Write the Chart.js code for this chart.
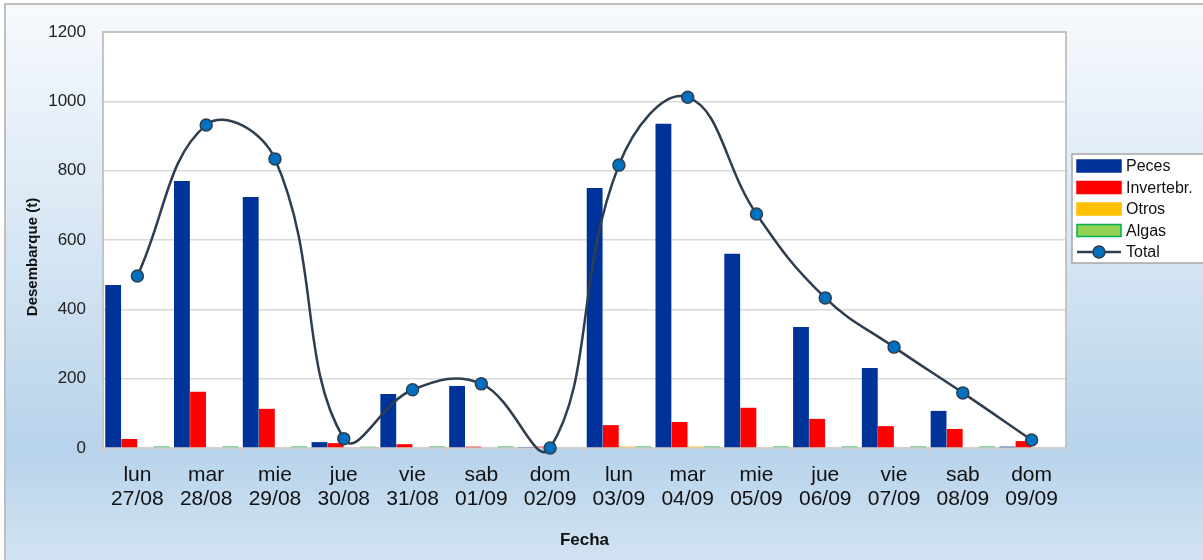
<!DOCTYPE html>
<html><head><meta charset="utf-8">
<script src="https://cdn.jsdelivr.net/npm/chart.js@4.4.1/dist/chart.umd.min.js"></script>
<style>html,body{margin:0;padding:0;background:#fff;overflow:hidden}</style>
</head><body>
<canvas id="c" width="1203" height="560"></canvas>
<script>
const dias = ['lun','mar','mie','jue','vie','sab','dom','lun','mar','mie','jue','vie','sab','dom'];
const fechas = ['27/08','28/08','29/08','30/08','31/08','01/09','02/09','03/09','04/09','05/09','06/09','07/09','08/09','09/09'];
const peces = [470, 770, 724, 17, 156, 179, 3, 750, 935, 560, 349, 231, 107, 4];
const invertebr = [26, 162, 113, 14, 11, 4, 4, 66, 75, 116, 84, 63, 55, 20];
const otros = [0, 0, 0, 0, 0, 0, 0, 4, 4, 0, 0, 0, 0, 0];
const algas = [5, 5, 5, 4, 5, 5, 0, 5, 5, 5, 5, 5, 5, 0];
const total = [496, 932, 834, 27, 168, 185, 0, 816, 1012, 675, 433, 291, 159, 23];
const yTicks = [0, 200, 400, 600, 800, 1000, 1200];
const yTitle = 'Desembarque (t)';
const xTitle = 'Fecha';

const FONT = "'Liberation Sans', Arial, sans-serif";
const labels = dias.map((d, i) => [d, fechas[i]]);

const legendItems = [
  {text: 'Peces', type: 'box', fill: '#003399', stroke: '#003399'},
  {text: 'Invertebr.', type: 'box', fill: '#ff0000', stroke: '#ff0000'},
  {text: 'Otros', type: 'box', fill: '#ffc000', stroke: '#ffc000'},
  {text: 'Algas', type: 'box', fill: '#92d050', stroke: '#00b050'},
  {text: 'Total', type: 'line', fill: '#0070c0', stroke: '#2f3e4f'}
];

const bgPlugin = {
  id: 'bg',
  beforeDraw(chart) {
    const ctx = chart.ctx, W = chart.width, H = chart.height, a = chart.chartArea;
    ctx.save();
    ctx.fillStyle = '#ffffff';
    ctx.fillRect(0, 0, W, H);
    const g = ctx.createLinearGradient(0, 4, 0, H);
    g.addColorStop(0, '#f7fafd');
    g.addColorStop(0.25, '#e4eef8');
    g.addColorStop(0.5, '#d1e3f2');
    g.addColorStop(0.8, '#b7d3eb');
    g.addColorStop(1, '#d2e3f2');
    ctx.fillStyle = g;
    ctx.fillRect(5, 4, W - 5, H - 4);
    ctx.strokeStyle = '#bfbfbf';
    ctx.lineWidth = 2;
    ctx.beginPath();
    ctx.moveTo(5, H); ctx.lineTo(5, 4); ctx.lineTo(W, 4);
    ctx.stroke();
    ctx.fillStyle = '#ffffff';
    ctx.fillRect(a.left, a.top, a.right - a.left, a.bottom - a.top);
    ctx.restore();
  },
  beforeDatasetsDraw(chart) {
    const ctx = chart.ctx, a = chart.chartArea;
    ctx.save();
    ctx.strokeStyle = '#c4c4c4';
    ctx.lineWidth = 2;
    ctx.beginPath();
    ctx.moveTo(a.left, a.bottom); ctx.lineTo(a.left, a.top); ctx.lineTo(a.right, a.top); ctx.lineTo(a.right, a.bottom);
    ctx.stroke();
    ctx.restore();
  },
  afterDraw(chart) {
    const ctx = chart.ctx, a = chart.chartArea;
    ctx.save();
    ctx.translate(33, 257);
    ctx.rotate(-Math.PI / 2);
    ctx.font = 'bold 15px ' + FONT;
    ctx.fillStyle = '#111111';
    ctx.textAlign = 'center';
    ctx.textBaseline = 'middle';
    ctx.fillText(yTitle, 0, 0);
    ctx.restore();

    ctx.save();
    const bx = a.right + 6, by = 154, bw = 145, bh = 109;
    ctx.fillStyle = '#ffffff';
    ctx.fillRect(bx, by, bw, bh);
    ctx.strokeStyle = '#a6a6a6';
    ctx.lineWidth = 1.5;
    ctx.strokeRect(bx, by, bw, bh);
    ctx.font = '16px ' + FONT;
    ctx.textBaseline = 'middle';
    ctx.textAlign = 'left';
    legendItems.forEach((it, i) => {
      const cy = by + 12 + i * 21.5;
      const sx = bx + 5, sw = 44;
      if (it.type === 'box') {
        ctx.fillStyle = it.fill;
        ctx.fillRect(sx, cy - 6, sw, 12);
        ctx.strokeStyle = it.stroke;
        ctx.lineWidth = 1.5;
        ctx.strokeRect(sx, cy - 6, sw, 12);
      } else {
        ctx.strokeStyle = it.stroke;
        ctx.lineWidth = 2.5;
        ctx.beginPath(); ctx.moveTo(sx, cy); ctx.lineTo(sx + sw, cy); ctx.stroke();
        ctx.beginPath(); ctx.arc(sx + sw / 2, cy, 6, 0, Math.PI * 2);
        ctx.fillStyle = it.fill; ctx.fill();
        ctx.lineWidth = 1.5; ctx.stroke();
      }
      ctx.fillStyle = '#111111';
      ctx.fillText(it.text, sx + sw + 5, cy + 1);
    });
    ctx.restore();
  }
};

const barCommon = {type: 'bar', order: 2, borderWidth: 0, categoryPercentage: 0.94, barPercentage: 0.98};

new Chart(document.getElementById('c'), {
  data: {
    labels: labels,
    datasets: [
      {type: 'line', label: 'Total', data: total, order: 0, borderColor: '#2f3e4f', borderWidth: 2.5,
       tension: 0.42, pointRadius: 6, pointBackgroundColor: '#0070c0', pointBorderColor: '#2f3e4f',
       pointBorderWidth: 1.5, clip: false, fill: false},
      Object.assign({label: 'Peces', data: peces, backgroundColor: '#003399'}, barCommon),
      Object.assign({label: 'Invertebr.', data: invertebr, backgroundColor: '#ff0000'}, barCommon),
      Object.assign({label: 'Otros', data: otros, backgroundColor: '#ffc000'}, barCommon),
      Object.assign({label: 'Algas', data: algas, backgroundColor: '#5ec77a'}, barCommon)
    ]
  },
  options: {
    responsive: false,
    animation: false,
    devicePixelRatio: 1,
    layout: {padding: {left: 0, right: 137, top: 32, bottom: 0}},
    elements: {line: {capBezierPoints: false}},
    plugins: {legend: {display: false}, tooltip: {enabled: false}},
    scales: {
      x: {
        offset: true,
        grid: {display: true, drawOnChartArea: false, drawTicks: true, tickLength: 7, color: '#d0d0d0', lineWidth: 1.5, offset: true},
        border: {display: true, color: '#d0d0d0', width: 2},
        ticks: {color: '#111', font: {family: FONT, size: 21, lineHeight: 1.15}, padding: 8, maxRotation: 0, autoSkip: false},
        title: {display: true, text: xTitle, color: '#111', font: {family: FONT, size: 17, weight: 'bold'}, padding: {top: 0, bottom: 9}},
        afterFit(s) { s.height = 112; }
      },
      y: {
        min: 0, max: 1200,
        afterBuildTicks(s) { s.ticks = yTicks.map(v => ({value: v})); },
        grid: {color: '#d9d9d9', lineWidth: 1.5, drawTicks: false},
        border: {display: false},
        ticks: {color: '#222', font: {family: FONT, size: 17}, padding: 17, callback: v => String(v)},
        title: {display: false},
        afterFit(s) { s.width = 103; }
      }
    }
  },
  plugins: [bgPlugin]
});
</script>
</body></html>
